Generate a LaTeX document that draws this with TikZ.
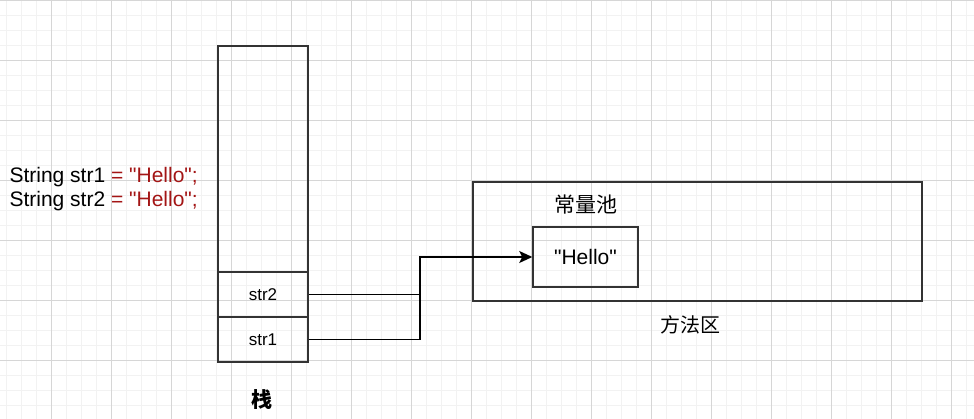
\documentclass[tikz,border=0pt]{standalone}
\usepackage{fontspec}
\setmainfont[Ligatures=TeXOff]{Liberation Sans}
\newfontfamily\cjk{Noto Sans CJK SC}
\usetikzlibrary{arrows.meta}
\definecolor{strred}{RGB}{163,21,21}
\definecolor{boxline}{RGB}{51,51,51}
\begin{document}
\begin{tikzpicture}[x=1pt,y=-1pt,
	box/.style={draw=boxline,line width=1.5pt,inner sep=0pt},
	small/.style={font=\fontsize{17}{20}\selectfont},
	big/.style={font=\fontsize{21}{24}\selectfont},
	link/.style={line width=1.4pt}]
	\useasboundingbox(0,0)rectangle(974,419);
	\foreach \x in {6,21,...,974}{
		\draw[black!5](\x,0)--(\x,419);
	}
	\foreach \y in {0,15,...,419}{
		\draw[black!5](0,\y)--(974,\y);
	}
	\foreach \x in {51,111,...,974}{
		\draw[black!16](\x,0)--(\x,419);
	}
	\foreach \y in {0,60,...,419}{
		\draw[black!16](0,\y)--(974,\y);
	}
	\node[big,anchor=west,align=left](code)at(6,189){String str1 {\color{strred}= "Hello";}\\String str2 {\color{strred}= "Hello";}};
	\node[box,minimum width=90pt,minimum height=226pt](stack)at(263,159){};
	\node[box,small,minimum width=90pt,minimum height=45pt](str2)at(263,294.5){str2};
	\node[box,small,minimum width=90pt,minimum height=45pt](str1)at(263,339.5){str1};
	\node[font=\cjk\bfseries\fontsize{21}{24}\selectfont](stacklabel)at(262,400){栈};
	\node[box,minimum width=449pt,minimum height=119pt](method)at(697.5,241.5){};
	\node[font=\cjk\fontsize{20}{24}\selectfont](methodlabel)at(690,325){方法区};
	\node[font=\cjk\fontsize{21}{24}\selectfont](poollabel)at(586,205){常量池};
	\node[box,big,minimum width=105pt,minimum height=60pt](hello)at(585.5,257){"Hello"};
	\coordinate(turn)at(420,257);
	\draw[link](str1.east)-|(turn);
	\draw[link,-{Stealth[length=13pt,width=12pt,inset=3pt]}](str2.east)-|(turn)--(hello.west);
\end{tikzpicture}
\end{document}
